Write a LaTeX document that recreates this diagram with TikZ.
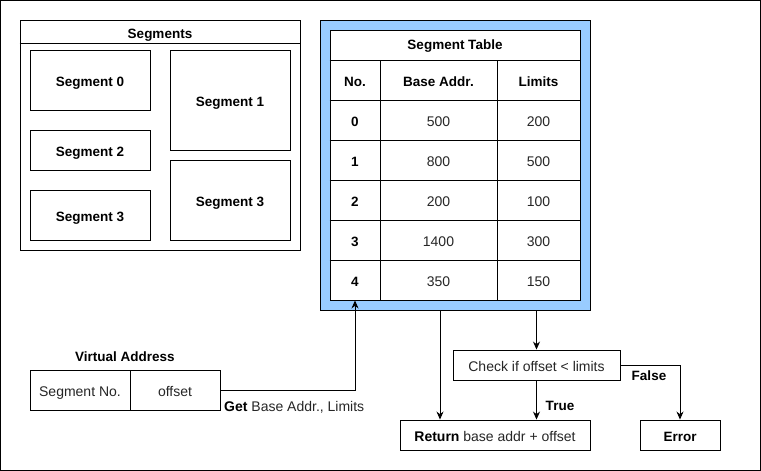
\documentclass[tikz,border=0pt]{standalone}
\usepackage{fontspec}
\setmainfont{Liberation Sans}
\usetikzlibrary{arrows.meta,positioning,calc}

\definecolor{tblblue}{HTML}{99CCFF}

\tikzset{
  box/.style={draw,line width=0.9pt,inner sep=0pt,fill=white},
  lbl/.style={inner sep=0pt,text height=13.5pt,text depth=0pt,font=\fontsize{13.5}{15}\selectfont\bfseries},
  txt/.style={inner sep=0pt,text height=13.7pt,text depth=0pt,text=black!85,font=\fontsize{14}{16}\selectfont},
  arr/.style={-{Stealth[length=8pt,width=7pt]},line width=0.9pt}
}

\begin{document}
\begin{tikzpicture}[x=1pt,y=-1pt,font=\fontsize{13.5}{15}\selectfont]

\useasboundingbox (0,0) rectangle (761,471);

% Külső keret
\draw[line width=0.9pt] (0.5,0.5) rectangle (760.5,470.5);

% Szegmensek doboz
\node[box,minimum width=280,minimum height=230] (segs) at (160,135) {};
\draw[line width=0.9pt] (segs.west|-0,43) -- (segs.east|-0,43);
\node[lbl] (segslbl) at (160,31.5) {Segments};

% Szegmensek
\node[box,lbl,minimum width=120,minimum height=60] (seg0) at (90,80) {Segment 0};
\node[box,lbl,minimum width=120,minimum height=40] (seg2) at (90,150) {Segment 2};
\node[box,lbl,minimum width=120,minimum height=50] (seg3a) at (90,215) {Segment 3};
\node[box,lbl,minimum width=120,minimum height=100] (seg1) at (230,100) {Segment 1};
\node[box,lbl,minimum width=120,minimum height=80] (seg3b) at (230,200) {Segment 3};

% Szegmenstábla
\node[draw,line width=0.9pt,fill=tblblue,minimum width=270,minimum height=290,inner sep=0pt] (tbl) at (455,165) {};
\node[box,minimum width=250,minimum height=270] (inner) at (455,165) {};
\node[lbl] (tbllbl) at (455,43) {Segment Table};

% Vízszintes és függőleges vonalak
\foreach \yy in {60,100,140,...,260}{
\draw[line width=0.9pt] (inner.west|-0,\yy) -- (inner.east|-0,\yy);
}
\foreach \xx in {380,497}{
\draw[line width=0.9pt] (\xx,60) -- (\xx,300);
}

% Fejléc
\node[lbl] (hno) at (355,80) {No.};
\node[lbl] (hbase) at (438.5,80) {Base Addr.};
\node[lbl] (hlim) at (538.5,80) {Limits};

% Sorok
\foreach \nn/\bb/\ll [count=\ii from 0] in {0/500/200,1/800/500,2/200/100,3/1400/300,4/350/150}{
\node[lbl] (n\ii) at (355,120+40*\ii) {\nn};
\node[txt] (b\ii) at (438.5,120+40*\ii) {\bb};
\node[txt] (l\ii) at (538.5,120+40*\ii) {\ll};
}

% Virtuális cím
\node[lbl] (valbl) at (125,355) {Virtual Address};
\node[box,txt,draw=black,minimum width=100,minimum height=40] (segno) at (80,390) {Segment No.};
\node[box,txt,draw=black,minimum width=90,minimum height=40] (off) at (175,390) {offset};

% Ellenőrzés és eredmény
\node[box,txt,draw=black,minimum width=167,minimum height=30] (chk) at (536.5,365) {Check if offset < limits};
\node[box,txt,draw=black,minimum width=190,minimum height=30] (ret) at (495,435) {\textbf{\color{black}Return} base addr + offset};
\node[box,lbl,minimum width=80,minimum height=30] (err) at (680,435) {Error};

% Nyilak
\coordinate (baseout) at (440,310);
\draw[arr] (off.east) -| (inner.south -| n4);
\draw[arr] (baseout) -- (ret.north -| baseout);
\draw[arr] (tbl.south -| chk.north) -- (chk.north);
\draw[arr] (chk.south) -- (ret.north -| chk.south);
\draw[arr] (chk.east) -| (err.north);

% Feliratok
\node[txt,anchor=west] (getlbl) at (224,405) {\textbf{\color{black}Get} Base Addr., Limits};
\node[lbl] (truelbl) at (560,404) {True};
\node[lbl] (falselbl) at (649,374) {False};

\end{tikzpicture}
\end{document}
